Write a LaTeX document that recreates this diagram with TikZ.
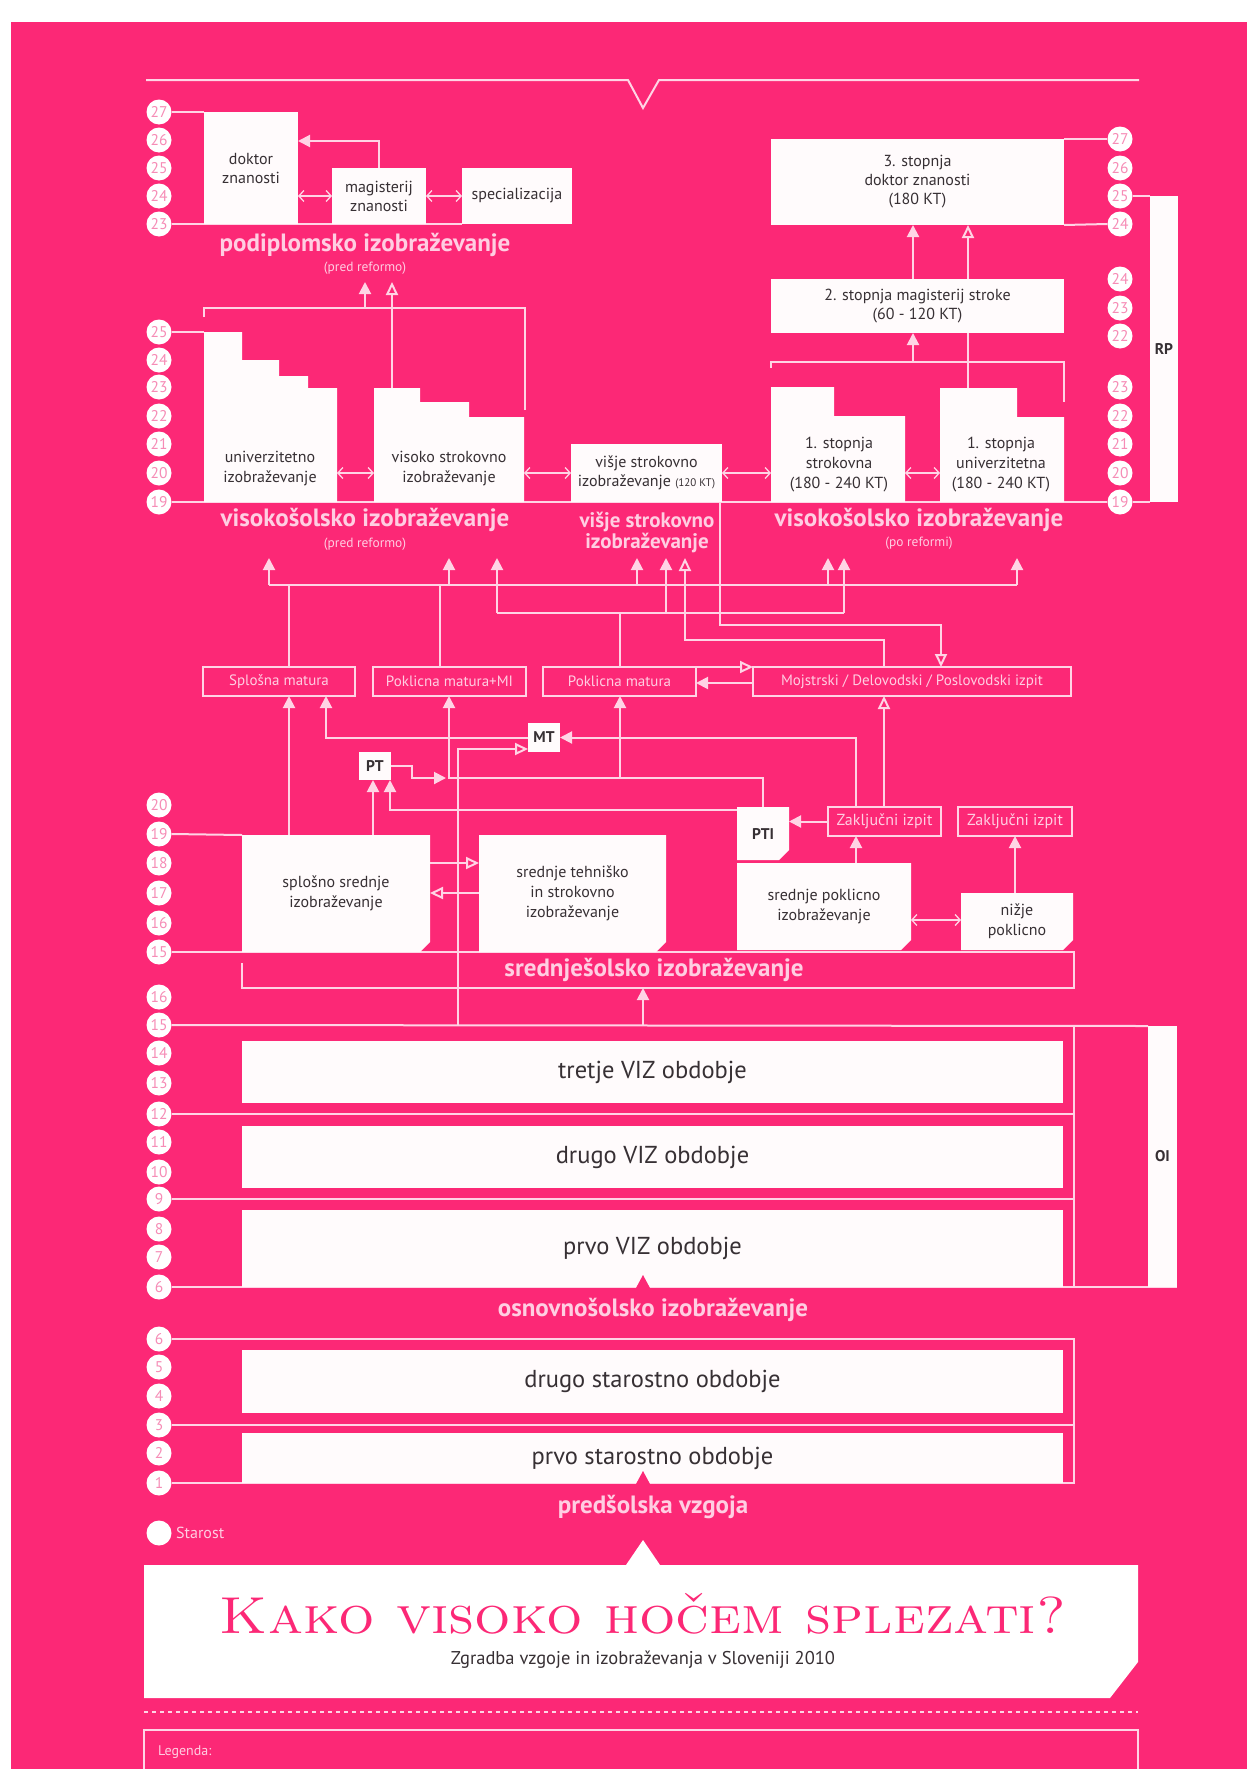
\documentclass[tikz,border=0pt]{standalone}
\usepackage{fontspec}
\setsansfont{PT Sans}
\usetikzlibrary{arrows.meta}
\definecolor{bgc}{RGB}{252,40,118}
\definecolor{lnc}{RGB}{255,212,229}
\definecolor{wbc}{RGB}{255,251,252}
\definecolor{txc}{RGB}{55,48,52}
\definecolor{ttc}{RGB}{255,206,226}
\definecolor{agec}{RGB}{246,140,182}
\pgfdeclarelayer{back}\pgfdeclarelayer{lines}\pgfdeclarelayer{boxes}
\pgfsetlayers{back,lines,boxes,main}
\newcommand{\fsz}[2]{\fontsize{#1}{#2}\selectfont}
\tikzset{
 ln/.style={draw=lnc, line width=2pt},
 fa/.style={-{Triangle[width=12pt,length=12pt]}},
 oa/.style={-{Triangle[open,width=12pt,length=13pt]}},
 da/.style={draw=lnc, line width=1.3pt, {Straight Barb[length=5pt,width=11pt]}-{Straight Barb[length=5pt,width=11pt]}},
 wb/.style={fill=wbc, inner sep=0pt, outer sep=0pt, anchor=north west, align=center, text=txc, font=\sffamily\fsz{16}{19}},
 tb/.style={inner sep=0pt, outer sep=0pt, anchor=north west, align=center, text=txc, font=\sffamily\fsz{16}{20}},
 txt/.style={align=center, text=txc, font=\sffamily\fsz{16}{20}, inner sep=0pt},
 ob/.style={draw=lnc, line width=1.5pt, inner sep=0pt, outer sep=0pt, anchor=north west, text=ttc, font=\sffamily\fsz{15}{17}},
 age/.style={circle, fill=white, minimum size=25pt, inner sep=0pt, text=agec, font=\sffamily\fsz{15.5}{15}},
 ttl/.style={text=ttc, font=\sffamily\bfseries\fsz{25}{27}, inner sep=0pt, align=center},
 sub/.style={text=ttc, font=\sffamily\fsz{13.4}{14}, inner sep=0pt},
 band/.style={fill=wbc, inner sep=0pt, outer sep=0pt, anchor=north west, text=txc, font=\sffamily\fsz{24.5}{27}},
 bold/.style={font=\sffamily\bfseries\fsz{15.5}{17}},
}
\newcommand{\chbox}[1]{\fill[wbc] (#1.north west) -- (#1.north east) -- ([yshift=10pt]#1.south east) -- ([xshift=-10pt]#1.south east) -- (#1.south west) -- cycle;}
\begin{document}
\begin{tikzpicture}[x=1pt,y=-1pt]
\useasboundingbox (0,0) rectangle (1247,1769);
\begin{pgfonlayer}{back}
\fill[white] (0,0) rectangle (1247,1769);
\fill[bgc] (11,22) rectangle (1247,1769);
\end{pgfonlayer}

% ---------- age circles
\foreach \n/\y in {27/112,26/140,25/168,24/196,23/224} \node[age] (pl\n) at (159,\y) {\n};
\foreach \n/\y in {25/332,24/360,23/387,22/416,21/444,20/473,19/502} \node[age] (ul\n) at (159,\y) {\n};
\foreach \n/\y in {20/805,19/834,18/863,17/893,16/923,15/952} \node[age] (sl\n) at (159,\y) {\n};
\foreach \n/\y in {16/997,15/1025,14/1053,13/1083,12/1114,11/1142,10/1172,9/1199,8/1229,7/1257,6/1287} \node[age] (ol\n) at (159,\y) {\n};
\foreach \n/\y in {6/1339,5/1367,4/1396,3/1425,2/1453,1/1483} \node[age] (kl\n) at (159,\y) {\n};
\foreach \n/\y in {27/139,26/168,25/196,24/224} \node[age] (pr\n) at (1120,\y) {\n};
\foreach \n/\y in {24/279,23/308,22/336} \node[age] (mr\n) at (1120,\y) {\n};
\foreach \n/\y in {23/387,22/416,21/444,20/473,19/502} \node[age] (ur\n) at (1120,\y) {\n};

% ---------- postgraduate (left)
\node[wb, minimum width=94pt, minimum height=112pt] (dok) at (204,112) {doktor\\znanosti};
\node[wb, minimum width=94pt, minimum height=56pt] (mag) at (332,168) {magisterij\\znanosti};
\node[wb, minimum width=110pt, minimum height=56pt] (spec) at (462,168) {specializacija};
\node[ttl] (podt) at (365,245) {podiplomsko izobraževanje};
\node[sub] (pods) at (365,268) {(pred reformo)};

% ---------- postgraduate (right)
\node[wb, minimum width=293pt, minimum height=86pt] (st3) at (771,139) {3. stopnja\\doktor znanosti\\(180 KT)};
\node[wb, minimum width=293pt, minimum height=54pt] (st2) at (771,279) {2. stopnja magisterij stroke\\(60 - 120 KT)};
\node[wb, bold, minimum width=28pt, minimum height=306pt] (rp) at (1150,196) {RP};

% ---------- undergraduate
\node[txt] (univ) at (270,469) {univerzitetno\\izobraževanje};
\node[txt] (visk) at (449,469) {visoko strokovno\\izobraževanje};
\node[wb, minimum width=151pt, minimum height=58pt] (visje) at (571,444) {višje strokovno\\izobraževanje {\fsz{11}{12}(120 KT)}};
\node[txt] (str1) at (839,465) {1. stopnja\\strokovna\\(180 - 240 KT)};
\node[txt] (uni1) at (1001,465) {1. stopnja\\univerzitetna\\(180 - 240 KT)};
\coordinate (univE) at (337,473);
\coordinate (viskW) at (374,473);
\coordinate (viskE) at (524,473);
\coordinate (viskN) at (392,388);
\coordinate (str1W) at (771,473);
\coordinate (str1E) at (905,473);
\coordinate (uni1W) at (940,473);
\coordinate (uni1N) at (968,388);
\node[ttl] (vt1) at (365,520) {visokošolsko izobraževanje};
\node[sub] (vs1) at (365,544) {(pred reformo)};
\node[ttl, font=\sffamily\bfseries\fsz{21}{21}] (vt2) at (647,532) {višje strokovno\\izobraževanje};
\node[ttl] (vt3) at (919,520) {visokošolsko izobraževanje};
\node[sub] (vs3) at (919,543) {(po reformi)};

% ---------- exams
\node[ob, minimum width=152pt, minimum height=29pt] (splm) at (203,667) {Splošna matura};
\node[ob, minimum width=153pt, minimum height=29pt] (pmmi) at (373,667) {Poklicna matura+MI};
\node[ob, minimum width=153pt, minimum height=29pt] (pm) at (543,667) {Poklicna matura};
\node[ob, minimum width=318pt, minimum height=29pt] (mojs) at (753,667) {Mojstrski / Delovodski / Poslovodski izpit};
\node[wb, bold, minimum width=32pt, minimum height=29pt] (mt) at (528,723) {MT};
\node[wb, bold, minimum width=32pt, minimum height=28pt] (pt) at (359,752) {PT};
\node[tb, bold, minimum width=52pt, minimum height=53pt] (pti) at (737,807) {PTI};
\node[ob, font=\sffamily\fsz{16}{17}, minimum width=113pt, minimum height=29pt] (zak1) at (828,807) {Zaključni izpit};
\node[ob, font=\sffamily\fsz{16}{17}, minimum width=114pt, minimum height=29pt] (zak2) at (958,807) {Zaključni izpit};

% ---------- secondary
\node[tb, minimum width=188pt, minimum height=117pt] (sps) at (242,835) {splošno srednje\\izobraževanje};
\node[tb, minimum width=187pt, minimum height=117pt] (spt) at (479,835) {srednje tehniško\\in strokovno\\izobraževanje};
\node[tb, minimum width=174pt, minimum height=87pt] (spp) at (737,863) {srednje poklicno\\izobraževanje};
\node[tb, minimum width=112pt, minimum height=57pt] (niz) at (961,893) {nižje\\poklicno};
\node[ttl] (sst) at (654,970) {srednješolsko izobraževanje};

% ---------- primary
\node[band, minimum width=821pt, minimum height=62pt] (viz3) at (242,1041) {tretje VIZ obdobje};
\node[band, minimum width=821pt, minimum height=62pt] (viz2) at (242,1126) {drugo VIZ obdobje};
\node[band, minimum width=821pt, minimum height=77pt] (viz1) at (242,1210) {prvo VIZ obdobje};
\fill[bgc] (636,1288) -- (643,1275) -- (650,1288) -- cycle;
\node[wb, bold, minimum width=29pt, minimum height=261pt] (oi) at (1148,1026) {OI};
\node[ttl] (ost) at (653,1310) {osnovnošolsko izobraževanje};

% ---------- preschool
\node[band, minimum width=821pt, minimum height=63pt] (ps2) at (242,1350) {drugo starostno obdobje};
\node[band, minimum width=821pt, minimum height=50pt] (ps1) at (242,1433) {prvo starostno obdobje};
\fill[bgc] (636,1484) -- (643,1471) -- (650,1484) -- cycle;
\node[ttl] (pst) at (653,1507) {predšolska vzgoja};
\node[circle, fill=white, minimum size=25pt, inner sep=0pt] (stc) at (159,1533) {};
\node[sub, anchor=west, font=\sffamily\fsz{16}{16}] (stt) at (176,1533) {Starost};

% ---------- title
\node[font=\rmfamily\fsz{52}{52}, text=bgc, inner sep=0pt] (title) at (643,1614) {\scalebox{1.1}[1]{\textsc{Kako visoko hočem splezati?}}};
\node[font=\sffamily\fsz{18.5}{20}, text=txc, inner sep=0pt] (subt) at (643,1660) {Zgradba vzgoje in izobraževanja v Sloveniji 2010};
\node[sub, anchor=west, font=\sffamily\fsz{14}{14}] (leg) at (158,1752) {Legenda:};

% ---------- white fills (stairs, chamfers, title panel)
\begin{pgfonlayer}{boxes}
\fill[wbc] (204,332) -- (242,332) -- (242,360) -- (279,360) -- (279,376) -- (308,376) -- (308,388) -- (337,388) -- (337,502) -- (204,502) -- cycle;
\fill[wbc] (374,388) -- (420,388) -- (420,402) -- (469,402) -- (469,417) -- (524,417) -- (524,502) -- (374,502) -- cycle;
\fill[wbc] (771,387) -- (834,387) -- (834,416) -- (905,416) -- (905,502) -- (771,502) -- cycle;
\fill[wbc] (940,388) -- (1017,388) -- (1017,417) -- (1064,417) -- (1064,502) -- (940,502) -- cycle;
\chbox{pti}\chbox{sps}\chbox{spt}\chbox{spp}\chbox{niz}
\fill[white] (144,1565) -- (626,1565) -- (643,1540) -- (660,1565) -- (1138,1565) -- (1138,1662) -- (1110,1698) -- (144,1698) -- cycle;
\end{pgfonlayer}

% ---------- lines
\begin{pgfonlayer}{lines}
\draw[ln] (146,80) -- (628,80) -- (643,108) -- (659,80) -- (1139,80);
% postgraduate left
\draw[ln] (pl27.east) -- (dok.north west);
\draw[ln] (pl23.east) -- (spec.south west);
\draw[ln,fa] (mag.north) |- (dok.north east |- 0,141);
\draw[da] (dok.east |- mag.west) -- (mag.west);
\draw[da] (mag.east) -- (spec.west);
\draw[ln] (204,317) -- (204,308) -- (525,308) -- (525,410);
\draw[ln,fa] (365,308) -- (365,282);
\draw[ln,oa] (viskN) -- (viskN |- 0,282);
% postgraduate right
\draw[ln] (st3.north east) -- (pr27.west);
\draw[ln] (st3.south east) -- (pr24.west);
\draw[ln] (pr25.east) -- (rp.north west);
\draw[ln] (ur19.east) -- (rp.south west);
\draw[ln,fa] (st2.north -| 913,0) -- (st3.south -| 913,0);
\draw[ln,oa] (uni1N) -- (st3.south -| uni1N);
\draw[ln] (771,368) -- (771,362) -- (1064,362) -- (1064,402);
\draw[ln,fa] (913,362) -- (st2.south -| 913,0);
% undergraduate
\draw[ln] (ul19.east) -- (ur19.west);
\draw[ln] (ul25.east) -- (204,332);
\draw[da] (univE) -- (viskW);
\draw[da] (viskE) -- (visje.west);
\draw[da] (visje.east) -- (str1W);
\draw[da] (str1E) -- (uni1W);
% exam network
\draw[ln] (269,585) -- (1017,585);
\foreach \x in {269,449,637,828,1017} \draw[ln,fa] (\x,585) -- (\x,558);
\draw[ln] (497,613) -- (844,613);
\foreach \x in {497,666,844} \draw[ln,fa] (\x,613) -- (\x,558);
\draw[ln,oa] (mojs.north -| 884,0) |- (685,640) -- (685,558);
\draw[ln,oa] (visje.south -| 720,0) |- (941,625) -- (mojs.north -| 941,0);
\draw[ln] (splm.north -| 289,0) -- (289,585);
\draw[ln] (pmmi.north -| 440,0) -- (440,585);
\draw[ln] (pm.north -| 620,0) -- (620,613);
\draw[ln,fa] (mojs.west |- 0,683) -- (pm.east |- 0,683);
\draw[ln,oa] (pm.north east) -- (mojs.north west);
\draw[ln,fa] (sps.north -| 289,0) -- (splm.south -| 289,0);
\draw[ln,fa] (mt.west) -| (splm.south -| 326,0);
\draw[ln,fa] (zak1.north -| 856,0) |- (mt.east);
\draw[ln,oa] (458,1025) |- (mt.west |- 0,749);
\draw[ln,fa] (pt.east) -| (412,778) -- (446,778);
\draw[ln,fa] (pti.north -| 763,0) |- (449,778) -- (pmmi.south -| 449,0);
\draw[ln,fa] (620,778) -- (pm.south -| 620,0);
\draw[ln,fa] (pti.west |- 0,810) -| (pt.south -| 390,0);
\draw[ln,fa] (sps.north -| 373,0) -- (pt.south -| 373,0);
\draw[ln,fa] (zak1.west) -- (pti.east |- zak1.west);
\draw[ln,oa] (zak1.north -| 884,0) -- (mojs.south -| 884,0);
\draw[ln,fa] (spp.north -| 856,0) -- (zak1.south -| 856,0);
\draw[ln,fa] (niz.north -| 1015,0) -- (zak2.south -| 1015,0);
% secondary
\draw[ln,oa] (sps.east |- 0,863) -- (spt.west |- 0,863);
\draw[ln,oa] (spt.west |- 0,893) -- (sps.east |- 0,893);
\draw[da] (spp.east |- 0,920) -- (niz.west |- 0,920);
\draw[ln] (sl19.east) -- (sps.north west);
\draw[ln] (sl15.east) -- (1074,952) -- (1074,988) -- (242,988) -- (242,963);
\draw[ln,fa] (643,1025) -- (643,988);
% primary
\draw[ln] (ol15.east) -- (oi.north west);
\draw[ln] (1074,1025) -- (1074,1287);
\draw[ln] (ol12.east) -- (1074,1114);
\draw[ln] (ol9.east) -- (1074,1199);
\draw[ln] (ol6.east) -- (oi.south east);
% preschool
\draw[ln] (kl6.east) -- (1074,1339) -- (1074,1483) -- (kl1.east);
\draw[ln] (kl3.east) -- (1074,1425);
% legend
\draw[lnc, line width=1.2pt, dash pattern=on 4pt off 4pt] (144,1712) -- (1138,1712);
\draw[lnc, line width=1.2pt] (144,1769) |- (1138,1730) -- (1138,1769);
\end{pgfonlayer}
\end{tikzpicture}
\end{document}
